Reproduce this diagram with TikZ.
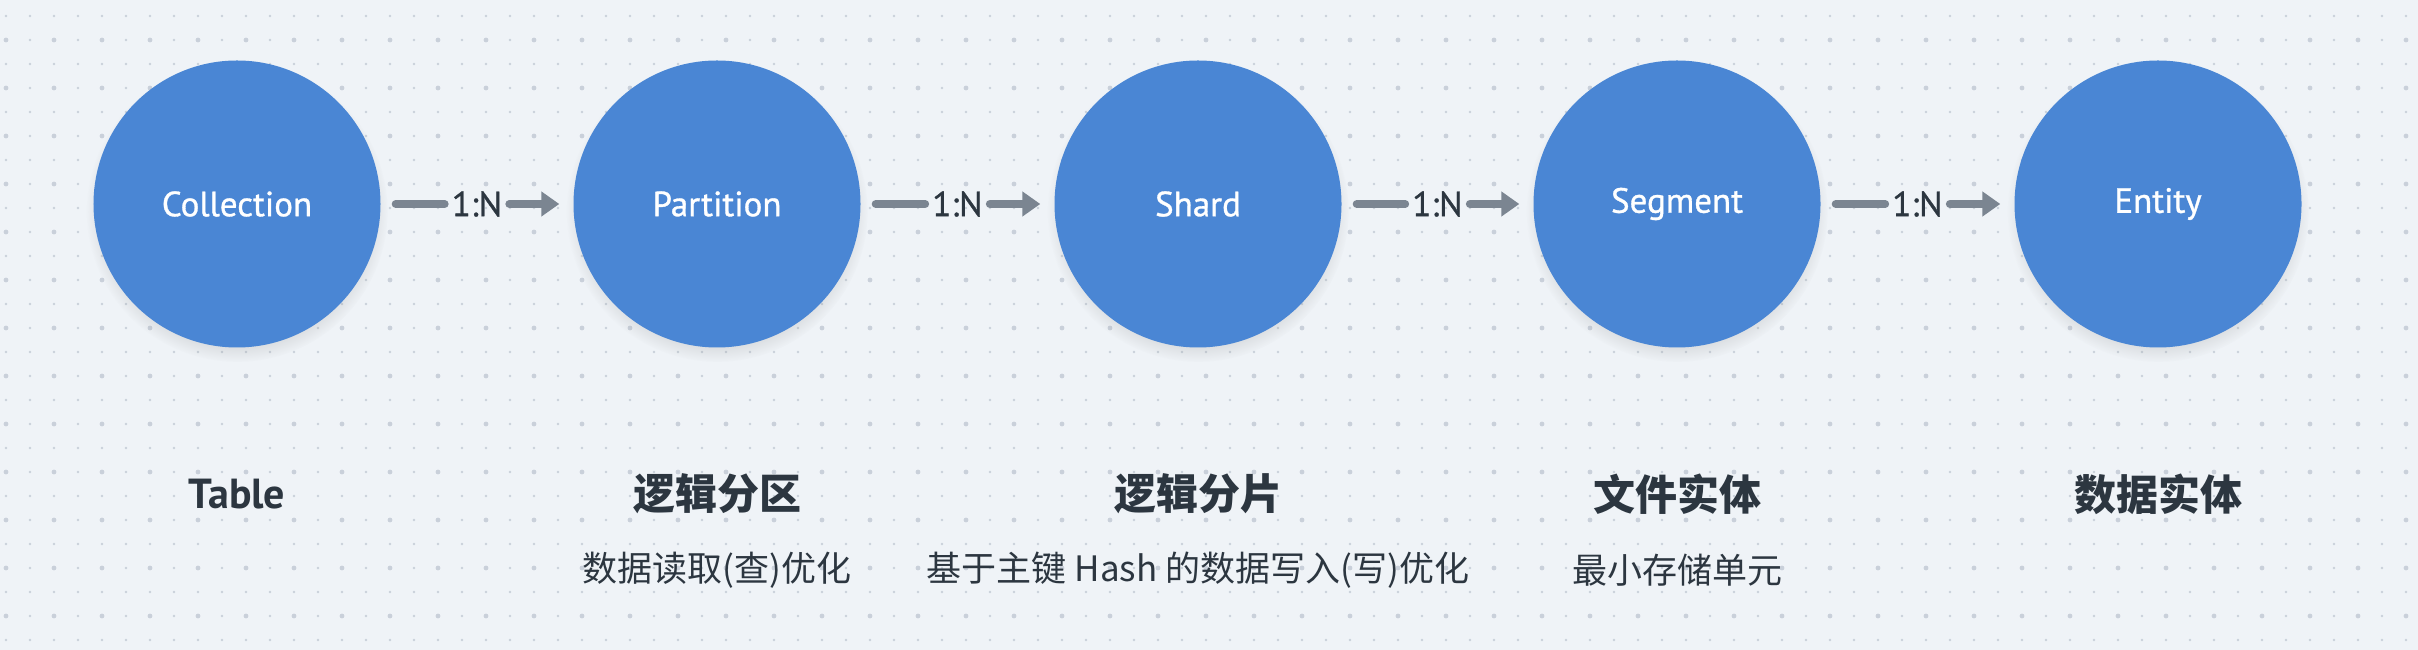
\documentclass[tikz,border=0pt]{standalone}
\usepackage{fontspec}
\setmainfont{PT Sans}
\newfontfamily\medfont[FakeBold=0.9]{PT Sans}
\newfontfamily\cjk{Noto Sans CJK SC}
\usetikzlibrary{arrows.meta,shadows,calc}

\definecolor{bgcol}{HTML}{EFF3F7}
\definecolor{dotcol}{HTML}{C9D0DA}
\definecolor{nodecol}{HTML}{4A86D4}
\definecolor{edgecol}{HTML}{7B8591}
\definecolor{textcol}{HTML}{2C3640}

\tikzset{
  entity/.style={circle,fill=nodecol,minimum size=287bp,inner sep=0pt,text=white,
    font=\medfont\fontsize{35bp}{40bp}\selectfont,
    circular drop shadow={shadow xshift=0bp,shadow yshift=-7bp,shadow scale=1.05,opacity=0.25}},
  ratiolabel/.style={inner sep=0pt,text=textcol,font=\medfont\fontsize{35bp}{40bp}\selectfont},
  heading/.style={inner sep=0pt,text=textcol,font=\bfseries\fontsize{42bp}{48bp}\selectfont},
  subnote/.style={inner sep=0pt,text=textcol,font=\cjk\fontsize{35bp}{42bp}\selectfont},
  link/.style={draw=edgecol,line width=8bp,line cap=round},
}

\begin{document}
\begin{tikzpicture}[x=1bp,y=1bp,>={Triangle[length=18bp,width=24bp]}]
  % Background
  \fill[bgcol] (0,0) rectangle (2418,650);
  \useasboundingbox (0,0) rectangle (2418,650);
  \foreach \i in {0,...,100}
    \foreach \j in {0,...,26}
      \fill[dotcol] (6+24*\i,634-24*\j) circle (1.3);
  \foreach \i in {0,...,50}
    \foreach \j in {0,...,12}
      \fill[dotcol] (6+48*\i,610-48*\j) circle (2.4);
  % Node: Collection
  \node[entity] (coll) at (237,446) {Collection};
  % Node: Partition
  \node[entity] (part) at (717,446) {Partition};
  % Node: Shard
  \node[entity] (shard) at (1198,446) {Shard};
  % Node: Segment
  \node[entity] (seg) at (1677,446) {Segment};
  % Node: Entity
  \node[entity] (ent) at (2158,446) {Entity};
  % Edge: coll -> part
  \node[ratiolabel] (r1) at ($(coll)!0.5!(part)$) {1:N};
  \draw[link] ([xshift=15bp]coll.east) -- ([xshift=-7bp]r1.west);
  \draw[link,->] ([xshift=7bp]r1.east) -- ([xshift=-14bp]part.west);
  % Edge: part -> shard
  \node[ratiolabel] (r2) at ($(part)!0.5!(shard)$) {1:N};
  \draw[link] ([xshift=15bp]part.east) -- ([xshift=-7bp]r2.west);
  \draw[link,->] ([xshift=7bp]r2.east) -- ([xshift=-14bp]shard.west);
  % Edge: shard -> seg
  \node[ratiolabel] (r3) at ($(shard)!0.5!(seg)$) {1:N};
  \draw[link] ([xshift=15bp]shard.east) -- ([xshift=-7bp]r3.west);
  \draw[link,->] ([xshift=7bp]r3.east) -- ([xshift=-14bp]seg.west);
  % Edge: seg -> ent
  \node[ratiolabel] (r4) at ($(seg)!0.5!(ent)$) {1:N};
  \draw[link] ([xshift=15bp]seg.east) -- ([xshift=-7bp]r4.west);
  \draw[link,->] ([xshift=7bp]r4.east) -- ([xshift=-14bp]ent.west);
  % Captions
  \node[heading] (tcoll) at (237,156) {Table};
  \node[heading] (tpart) at (717,156) {\cjk 逻辑分区};
  \node[heading] (tshard) at (1198,156) {\cjk 逻辑分片};
  \node[heading] (tseg) at (1677,156) {\cjk 文件实体};
  \node[heading] (tent) at (2158,156) {\cjk 数据实体};
  \node[subnote] (npart) at (717,80) {数据读取(查)优化};
  \node[subnote] (nshard) at (1198,80) {基于主键 Hash 的数据写入(写)优化};
  \node[subnote] (nseg) at (1677,80) {最小存储单元};
\end{tikzpicture}
\end{document}
